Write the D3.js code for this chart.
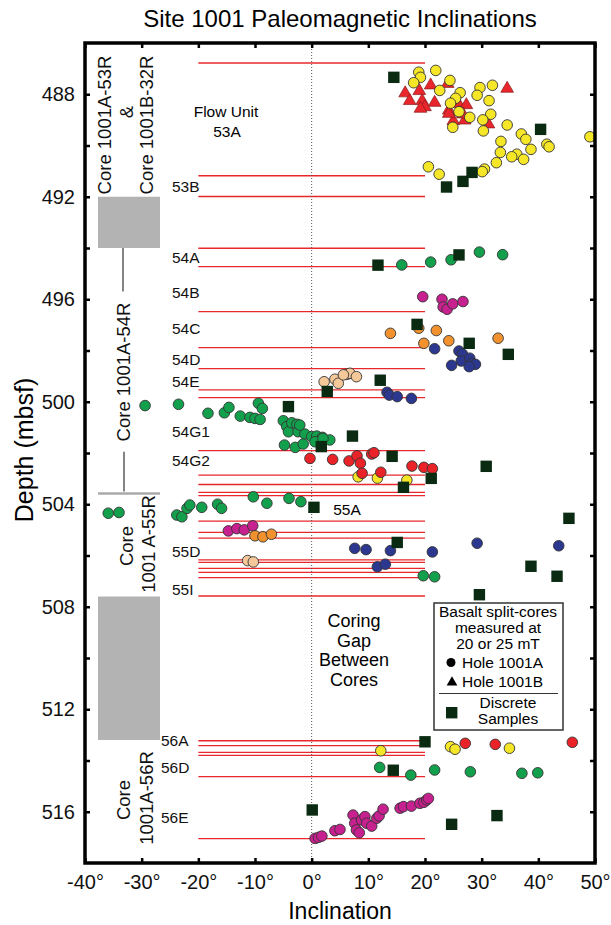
<!DOCTYPE html>
<html lang="en">
<head>
<meta charset="UTF-8">
<title>Site 1001 Paleomagnetic Inclinations</title>
<script src="https://d3js.org/d3.v7.min.js"></script>
<style>
  body, html { margin: 0; padding: 0; background: #fff; }
  svg { display: block; font-family: "Liberation Sans", Arial, Helvetica, sans-serif; }
  .axis text { font-size: 20px; fill: #111; }
  .axis line { stroke: #000; stroke-width: 2.5; }
</style>
</head>
<body>
<div id="chart"></div>
<script>
// ---- data (inclination in degrees, depth in mbsf) ----
const yellowPts = [
  [18.9,487.14],[19.2,487.34],[18.0,487.55],[21.9,487.07],[24.4,487.46],[22.6,487.85],[26.2,487.94],
  [25.4,488.16],[24.5,488.35],[26.0,488.68],[27.9,488.90],[24.9,489.29],[29.7,487.74],[31.9,487.65],
  [29.2,488.04],[31.3,488.25],[31.6,488.78],[30.2,489.00],[30.3,489.43],[34.5,489.20],[37.0,489.55],
  [37.8,489.76],[33.4,489.84],[33.3,490.27],[38.7,490.15],[41.5,489.95],[41.9,490.05],[36.2,490.34],
  [35.3,490.44],[37.4,490.54],[32.6,490.67],[30.5,490.92],[30.1,491.02],[20.6,490.83],[22.5,491.12],
  [49.1,489.66],
  [8.2,502.93],[11.6,502.98],[16.8,503.06],
  [12.2,513.62],[24.5,513.46],[25.3,513.56],[34.9,513.52]
];
const redPts = [
  [-0.3,502.21],[3.7,502.25],[6.6,502.31],[8.0,502.11],[8.6,502.40],[10.6,502.04],[11.0,501.99],
  [8.9,502.79],[12.2,502.75],[17.7,502.51],[19.8,502.56],[21.3,502.61],
  [27.1,513.33],[32.4,513.37],[46.0,513.29]
];
const greenPts = [
  [15.9,494.66],[21.0,494.55],[24.6,494.46],[29.6,494.16],[33.7,494.26],
  [-29.4,500.15],[-23.5,500.10],[-18.3,500.45],[-15.4,500.43],[-14.6,500.22],[-12.6,500.56],
  [-10.9,500.61],[-10.0,500.65],[-9.1,500.69],[-9.4,500.06],[-8.7,500.26],[-5.0,500.74],
  [-4.4,500.97],[-4.1,501.17],[-3.5,500.82],[-2.6,500.88],[-2.4,501.17],[-1.2,501.26],
  [0.0,501.36],[0.9,501.34],[1.9,501.39],[3.2,501.49],[-4.8,501.69],[-2.9,501.78],
  [-1.5,501.65],[0.6,501.56],[-2.1,500.91],[2.0,501.43],
  [-35.9,504.35],[-34.0,504.32],[-23.8,504.42],[-22.9,504.49],[-22.0,504.16],[-21.5,504.03],
  [-19.4,504.12],[-16.6,504.00],[-15.9,504.16],[-10.3,503.71],[-7.9,503.96],[-4.0,503.77],
  [-1.9,503.90],
  [19.7,506.79],[21.7,506.83],
  [12.0,514.27],[17.5,514.57],[21.7,514.37],[28.0,514.44],[37.1,514.50],[39.9,514.48]
];
const magentaPts = [
  [19.6,495.90],[23.0,496.00],[23.2,496.30],[23.9,496.39],[24.9,496.18],[26.7,496.09],
  [-14.7,505.04],[-13.2,504.95],[-11.9,505.00],[-10.4,504.84],
  [0.6,517.04],[1.2,517.00],[1.8,516.95],[4.1,516.74],[5.0,516.69],[7.3,516.13],[7.6,516.45],
  [7.9,516.71],[8.4,516.82],[8.8,516.32],[9.4,516.19],[9.7,516.45],[10.6,516.56],[11.5,516.25],
  [11.9,516.16],[12.6,515.90],[15.6,515.86],[16.2,515.80],[17.6,515.78],[19.1,515.67],
  [19.8,515.63],[20.3,515.54],[20.6,515.48]
];
const orangePts = [
  [13.9,497.33],[18.9,497.13],[22.0,497.22],[19.8,497.72],[24.2,497.62],[32.9,497.52],
  [-10.0,505.23],[-8.6,505.27],[-7.1,505.17]
];
const navyPts = [
  [21.7,497.93],[26.0,498.02],[26.6,498.14],[26.4,498.41],[24.7,498.58],[27.9,498.30],
  [28.2,498.50],[28.9,498.54],[27.8,498.63],
  [13.3,499.63],[13.7,499.74],[15.1,499.80],[17.6,499.87],
  [7.6,505.72],[9.6,505.77],[13.9,505.81],[21.3,505.86],[29.2,505.52],[43.6,505.62],
  [11.6,506.44],[13.0,506.34]
];
const peachPts = [
  [6.2,498.93],[6.75,498.89],[7.9,499.02],[4.1,499.12],[4.7,499.28],[2.2,499.22],[5.6,498.95],
  [-11.3,506.20],[-10.3,506.25]
];
const holeBPts = [
  [21.0,487.61],[16.5,487.92],[19.0,487.83],[17.3,488.22],[19.5,488.22],[21.7,488.29],
  [20.0,488.46],[19.2,488.52],[24.0,487.55],[24.2,488.59],[25.9,488.33],[27.3,488.38],
  [25.0,489.00],[27.0,488.98],[26.7,488.74],[31.2,489.13],[34.5,487.74],[24.2,488.72]
];
const discretePts = [
  [14.5,487.34],[40.4,489.37],[28.3,491.05],[26.7,491.40],[23.8,491.62],
  [11.7,494.67],[26.0,494.27],
  [18.6,496.98],[27.8,497.72],[34.7,498.15],
  [12.1,499.16],[2.75,499.60],
  [-4.1,500.19],[7.2,501.34],[1.7,501.75],
  [14.2,502.13],[30.8,502.52],[21.1,502.99],[16.2,503.34],
  [0.4,504.12],[45.4,504.55],[15.1,505.49],[38.7,506.42],[43.3,506.81],[29.6,507.53],
  [20.0,513.27],[14.4,514.38],[0.1,515.93],[24.7,516.49],[32.7,516.15]
];
// flow unit boundaries (depth)
const flowBoundaries = [486.78, 491.18, 491.99, 494.01, 494.73, 496.48, 497.89, 498.71, 499.54, 499.84,
  501.91, 502.86, 503.23, 503.54, 503.66, 504.66, 505.10, 505.32, 506.17, 506.27, 506.50, 506.66,
  506.86, 507.58, 513.23, 513.42, 513.68, 513.80, 514.63, 517.05];
const unitNames  = ["53B","54A","54B","54C","54D","54E","54G1","54G2","55D","55I","56A","56D","56E"];
const unitDepths = [491.80,494.60,495.96,497.37,498.57,499.41,501.36,502.51,506.05,507.54,513.43,514.50,516.45];
const coreGaps = [[492.0, 494.0], [507.6, 513.2]];
const xTicks = [-40,-30,-20,-10,0,10,20,30,40,50];
const yTicks = [488,490,492,494,496,498,500,502,504,506,508,510,512,514,516];

// ---- layout ----
const W = 611, H = 925;
const x = d3.scaleLinear().domain([-40, 50]).range([85, 595]);
const y = d3.scaleLinear().domain([486, 518]).range([43, 863]);

const svg = d3.select("#chart").append("svg").attr("width", W).attr("height", H);

svg.append("text").attr("x", 340).attr("y", 27).attr("text-anchor", "middle")
  .attr("font-size", 24).text("Site 1001 Paleomagnetic Inclinations");

// core gap boxes + separators
svg.selectAll("rect.gap").data(coreGaps).join("rect").attr("class", "gap")
  .attr("x", 98).attr("width", 62)
  .attr("y", d => y(d[0])).attr("height", d => y(d[1]) - y(d[0]))
  .attr("fill", "#b3b3b3");
svg.append("line").attr("x1", 98).attr("x2", 160).attr("y1", y(503.58)).attr("y2", y(503.58))
  .attr("stroke", "#aaa").attr("stroke-width", 2.5);
svg.append("line").attr("x1", 123).attr("x2", 123).attr("y1", y(494.0)).attr("y2", y(495.7))
  .attr("stroke", "#333").attr("stroke-width", 1.2);
svg.append("line").attr("x1", 124).attr("x2", 124).attr("y1", y(501.95)).attr("y2", y(503.5))
  .attr("stroke", "#333").attr("stroke-width", 1.2);

// rotated core labels
function vtext(tx, ty, str, size) {
  svg.append("text").attr("transform", `translate(${tx},${ty}) rotate(-90)`)
    .attr("text-anchor", "middle").attr("font-size", size).attr("fill", "#111").text(str);
}
vtext(111, 125, "Core 1001A-53R", 18.5);
vtext(133, 112, "&", 18.5);
vtext(153, 125, "Core 1001B-32R", 18.5);
vtext(130, 372, "Core 1001A-54R", 18.5);
vtext(133, 546, "Core", 18.5);
vtext(155, 544, "1001 A-55R", 18.5);
vtext(130, 800, "Core", 18.5);
vtext(153, 798, "1001A-56R", 18.5);

// flow unit boundaries
svg.append("g").selectAll("line").data(flowBoundaries).join("line")
  .attr("x1", x(-20)).attr("x2", x(20))
  .attr("y1", d => y(d)).attr("y2", d => y(d))
  .attr("stroke", "#e8282c").attr("stroke-width", 1.3);

// zero line
svg.append("line").attr("x1", x(0)).attr("x2", x(0)).attr("y1", y(486)).attr("y2", y(518))
  .attr("stroke", "#555").attr("stroke-width", 1).attr("stroke-dasharray", "1,2");

// unit labels
svg.append("g").selectAll("text").data(unitNames).join("text")
  .attr("x", (d, i) => i >= 10 ? 161 : 172)
  .attr("y", (d, i) => y(unitDepths[i]))
  .attr("font-size", 15.5).attr("fill", "#111").text(d => d);
svg.append("text").attr("x", x(3.8)).attr("y", y(504.42)).attr("font-size", 15.5).text("55A");
svg.append("text").attr("x", 226).attr("y", y(488.90)).attr("text-anchor", "middle")
  .attr("font-size", 15.5).text("Flow Unit");
svg.append("text").attr("x", 227).attr("y", y(489.66)).attr("text-anchor", "middle")
  .attr("font-size", 15.5).text("53A");
["Coring", "Gap", "Between", "Cores"].forEach((t, i) => {
  svg.append("text").attr("x", 354).attr("y", 627 + i * 19.7).attr("text-anchor", "middle")
    .attr("font-size", 18).text(t);
});

// markers
const pts = svg.append("g");
pts.selectAll("path.tri").data(holeBPts).join("path").attr("class", "tri")
  .attr("d", d3.symbol(d3.symbolTriangle, 70))
  .attr("transform", d => `translate(${x(d[0])},${y(d[1]) + 1})`)
  .attr("fill", "#e8262b").attr("stroke", "#8a1c1c").attr("stroke-width", 0.7);

const circleSets = [
  [yellowPts, "#f5e627"], [redPts, "#ea2328"], [greenPts, "#13a04d"], [magentaPts, "#c7218f"],
  [orangePts, "#f1922e"], [navyPts, "#2c3790"], [peachPts, "#f5c89a"]
];
circleSets.forEach(([data, col]) => {
  pts.append("g").selectAll("circle").data(data).join("circle")
    .attr("cx", d => x(d[0])).attr("cy", d => y(d[1])).attr("r", 5.3)
    .attr("fill", col).attr("stroke", "#333").attr("stroke-width", 0.9);
});

pts.selectAll("rect.sq").data(discretePts).join("rect").attr("class", "sq")
  .attr("x", d => x(d[0]) - 5.7).attr("y", d => y(d[1]) - 5.7)
  .attr("width", 11.4).attr("height", 11.4).attr("fill", "#0a2a12");

// axes
const gB = svg.append("g").attr("class", "axis").attr("transform", `translate(0,${y(518)})`)
  .call(d3.axisBottom(x).tickValues(xTicks).tickSize(-5).tickPadding(12).tickFormat(d => d + "°"));
const gT = svg.append("g").attr("class", "axis").attr("transform", `translate(0,${y(486)})`)
  .call(d3.axisTop(x).tickValues(xTicks).tickSize(-5).tickFormat(""));
const gL = svg.append("g").attr("class", "axis").attr("transform", `translate(${x(-40)},0)`)
  .call(d3.axisLeft(y).tickValues(yTicks).tickSize(-5).tickPadding(10)
    .tickFormat(d => d % 4 === 0 ? d : ""));
const gR = svg.append("g").attr("class", "axis").attr("transform", `translate(${x(50)},0)`)
  .call(d3.axisRight(y).tickValues(yTicks).tickSize(-5).tickFormat(""));
[gB, gT, gL, gR].forEach(g => g.select(".domain").remove());
gB.selectAll("text").attr("font-size", 20);
gL.selectAll("text").attr("font-size", 20);

// frame
svg.append("rect").attr("x", x(-40)).attr("y", y(486))
  .attr("width", x(50) - x(-40)).attr("height", y(518) - y(486))
  .attr("fill", "none").attr("stroke", "#000").attr("stroke-width", 3.5);

// axis titles
svg.append("text").attr("x", 340).attr("y", 919).attr("text-anchor", "middle")
  .attr("font-size", 23).text("Inclination");
svg.append("text").attr("transform", "translate(33,450) rotate(-90)").attr("text-anchor", "middle")
  .attr("font-size", 25).text("Depth (mbsf)");

// legend
const lg = svg.append("g");
lg.append("rect").attr("x", 434).attr("y", 603).attr("width", 129).attr("height", 127)
  .attr("fill", "#fff").attr("stroke", "#333").attr("stroke-width", 1.5);
[["Basalt split-cores", 617], ["measured at", 633], ["20 or 25 mT", 649]].forEach(([t, ty]) => {
  lg.append("text").attr("x", 498).attr("y", ty).attr("text-anchor", "middle")
    .attr("font-size", 15.5).text(t);
});
lg.append("circle").attr("cx", 451).attr("cy", 662.5).attr("r", 4.5).attr("fill", "#000");
lg.append("text").attr("x", 462).attr("y", 668).attr("font-size", 15.5).text("Hole 1001A");
lg.append("path").attr("d", d3.symbol(d3.symbolTriangle, 50))
  .attr("transform", "translate(452,682.5)").attr("fill", "#000");
lg.append("text").attr("x", 462).attr("y", 687).attr("font-size", 15.5).text("Hole 1001B");
lg.append("line").attr("x1", 439).attr("x2", 558).attr("y1", 693.5).attr("y2", 693.5)
  .attr("stroke", "#333").attr("stroke-width", 1.2);
lg.append("rect").attr("x", 446).attr("y", 707).attr("width", 11.4).attr("height", 11.4).attr("fill", "#0a2a12");
lg.append("text").attr("x", 508).attr("y", 708).attr("text-anchor", "middle").attr("font-size", 15.5).text("Discrete");
lg.append("text").attr("x", 508).attr("y", 724).attr("text-anchor", "middle").attr("font-size", 15.5).text("Samples");
</script>
</body>
</html>
